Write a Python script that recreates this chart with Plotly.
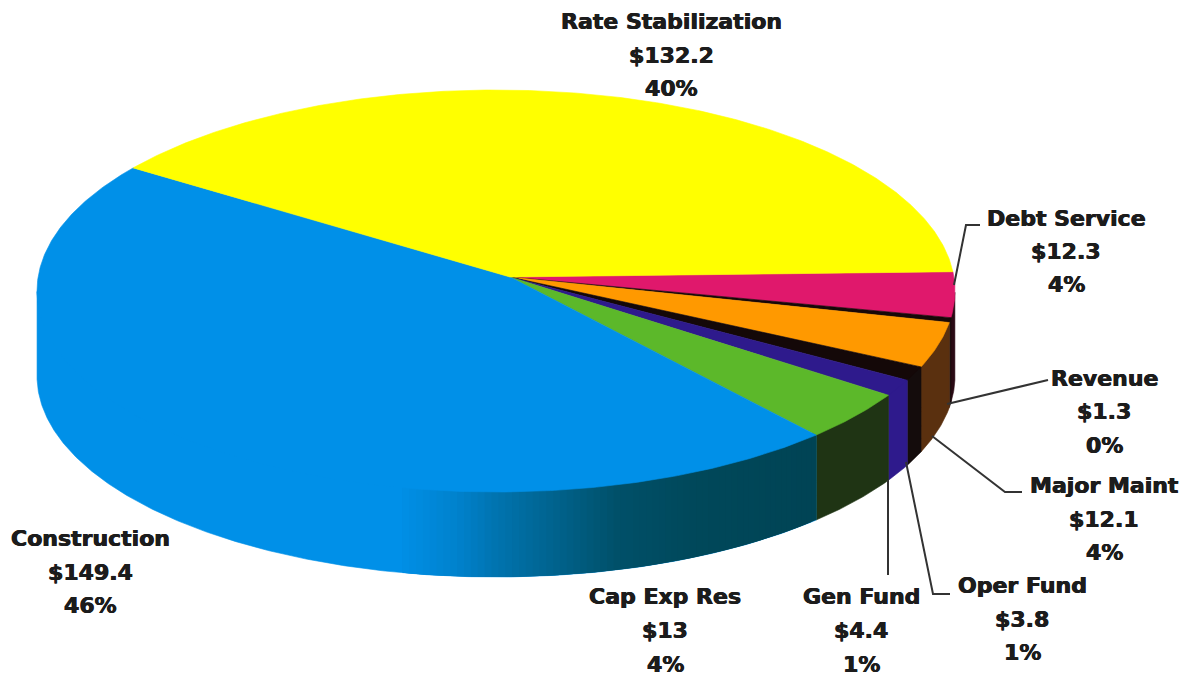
import math
import plotly.graph_objects as go

# Fund balances ($M), clockwise from the right-hand edge of the Rate Stabilization slice
categories = ["Debt Service", "Revenue", "Major Maint", "Oper Fund", "Gen Fund",
              "Cap Exp Res", "Construction", "Rate Stabilization"]
amounts = [12.3, 1.3, 12.1, 3.8, 4.4, 13, 149.4, 132.2]
amount_labels = ["$12.3", "$1.3", "$12.1", "$3.8", "$4.4", "$13", "$149.4", "$132.2"]
percent_labels = ["4%", "0%", "4%", "1%", "1%", "4%", "46%", "40%"]

top_colors = ["#E0186C", "#170808", "#FF9900", "#140808", "#2E1A8C", "#5CB82A", "#0090E8", "#FFFF00"]
wall_colors = ["#2A0A14", "#170808", "#5A300F", "#140C0C", "#2E1A8C", "#1F3414", "#0090E8", "#FFFF00"]

# Tilted disc: outline ellipse in pixel space, the apex where the slices meet, wall height
CX, CY, RX, RY = 496, 291, 459, 201
APEX = (510, 277)
DEPTH = 85
FIRST_EDGE_DEG = 5.5  # where the Debt Service slice starts on the outline
SHADE_FROM_X = 400    # the Construction wall darkens to the right of this x

ax_n = (APEX[0] - CX) / RX
ay_n = (CY - APEX[1]) / RY
BETA = math.hypot(ax_n, ay_n)
NX, NY = ax_n / BETA, ay_n / BETA
GAMMA = 1 / math.sqrt(1 - BETA ** 2)


def perspective(theta):
    """Project a disc angle onto the outline, keeping the disc centre at the apex."""
    c, s = math.cos(theta), math.sin(theta)
    par = c * NX + s * NY
    px, py = c - par * NX, s - par * NY
    den = 1 + BETA * par
    par2 = (par + BETA) / den
    return par2 * NX + px / (GAMMA * den), par2 * NY + py / (GAMMA * den)


def outline_xy(theta):
    x, y = perspective(theta)
    return CX + RX * x, CY - RY * y


def frange(a, b, step_deg=0.5):
    n = max(2, int(abs(b - a) / math.radians(step_deg)) + 1)
    return [a + (b - a) * i / (n - 1) for i in range(n)]


def blue_wall(x):
    """Wall shading along the front of the Construction slice."""
    stops = [(0, (0, 144, 232)), (SHADE_FROM_X, (0, 144, 232)), (460, (0, 130, 205)),
             (500, (0, 115, 175)), (560, (0, 98, 140)), (620, (0, 80, 105)),
             (700, (0, 72, 90)), (810, (0, 68, 85))]
    for (x0, c0), (x1, c1) in zip(stops, stops[1:]):
        if x <= x1:
            t = (x - x0) / (x1 - x0)
            return "rgb(%d,%d,%d)" % tuple(round(a + (b - a) * t) for a, b in zip(c0, c1))
    return "rgb(0,68,85)"


# Disc angle of the first edge: undo the projection of the chosen outline position
fx, fy = math.cos(math.radians(FIRST_EDGE_DEG)), math.sin(math.radians(FIRST_EDGE_DEG))
par0 = fx * NX + fy * NY
den0 = 1 - BETA * par0
par1 = (par0 - BETA) / den0
start = math.atan2(par1 * NY + (fy - par0 * NY) / (GAMMA * den0),
                   par1 * NX + (fx - par0 * NX) / (GAMMA * den0))

total = sum(amounts)
edges = [start]
for v in amounts:
    edges.append(edges[-1] - 2 * math.pi * v / total)

fig = go.Figure()


def polygon(xs, ys, color, width=0.6):
    fig.add_trace(go.Scatter(x=xs, y=ys, mode="lines", fill="toself", fillcolor=color,
                             line=dict(color=color, width=width), hoverinfo="skip",
                             showlegend=False))


def wall_band(rim, color, width=0.6):
    # The upper edge runs a little under the top face, which hides the join
    xs = [p[0] for p in rim] + [p[0] for p in reversed(rim)]
    ys = [p[1] - 3 for p in rim] + [p[1] + DEPTH for p in reversed(rim)]
    polygon(xs + xs[:1], ys + ys[:1], color, width)


# Outer walls: only the part of the rim nearer than the widest point of the disc shows
for i, (a, b) in enumerate(zip(edges, edges[1:])):
    rim = [p for p in map(outline_xy, frange(a, b, 0.4)) if p[1] >= CY + 3]
    if len(rim) < 2:
        continue
    wall_band(rim, wall_colors[i])
    if categories[i] == "Construction":
        # Overlapping bands, painted right to left, so no seams show between them
        shaded = [p for p in rim if p[0] >= SHADE_FROM_X]
        for j in range(0, len(shaded) - 1, 2):
            band = shaded[j:j + 5]
            wall_band(band, blue_wall(band[0][0]), 0)

# Top faces
for i, (a, b) in enumerate(zip(edges, edges[1:])):
    rim = [outline_xy(t) for t in frange(a, b)]
    xs = [APEX[0]] + [p[0] for p in rim] + [APEX[0]]
    ys = [APEX[1]] + [p[1] for p in rim] + [APEX[1]]
    polygon(xs, ys, top_colors[i])

# Leader lines, in pixel positions
leaders = {
    "Debt Service": [(954, 285), (966, 225), (980, 225)],
    "Revenue": [(947, 404), (1048, 380)],
    "Major Maint": [(932, 436), (1005, 492), (1022, 492)],
    "Oper Fund": [(906, 462), (933, 594), (950, 594)],
    "Gen Fund": [(888, 480), (888, 575)],
}
for pts in leaders.values():
    fig.add_trace(go.Scatter(x=[p[0] for p in pts], y=[p[1] for p in pts], mode="lines",
                             line=dict(color="#333333", width=2), hoverinfo="skip",
                             showlegend=False))

# Label placement: centre x and the y of each of the three lines
label_pos = {
    "Rate Stabilization": (671, 21, 55, 88),
    "Debt Service": (1066, 218, 251, 284),
    "Revenue": (1104, 378, 411, 445),
    "Major Maint": (1104, 485, 519, 552),
    "Oper Fund": (1022, 585, 619, 652),
    "Gen Fund": (861, 596, 630, 664),
    "Cap Exp Res": (665, 596, 630, 664),
    "Construction": (90, 538, 572, 605),
}
for name, amt, pct in zip(categories, amount_labels, percent_labels):
    x, y1, y2, y3 = label_pos[name]
    for text, y in ((name, y1), (amt, y2), (pct, y3)):
        fig.add_annotation(x=x, y=y, text="<b>%s</b>" % text, showarrow=False,
                           xanchor="center", yanchor="middle",
                           font=dict(family="DejaVu Sans", size=22, color="#1C1C1C",
                                     shadow="0.5px 0 0 #1C1C1C, -0.4px 0 0 #1C1C1C"))

fig.update_layout(
    width=1200, height=677, margin=dict(l=0, r=0, t=0, b=0),
    paper_bgcolor="white", plot_bgcolor="white", showlegend=False,
    xaxis=dict(range=[0, 1200], visible=False, fixedrange=True),
    yaxis=dict(range=[677, 0], visible=False, fixedrange=True),
)
fig.write_html("out.html", config={"displayModeBar": False})
